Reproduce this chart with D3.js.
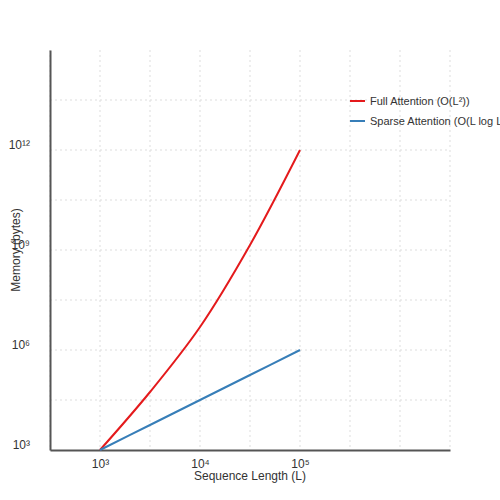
<!DOCTYPE html>
<html><head><meta charset="utf-8">
<script src="https://cdn.jsdelivr.net/npm/d3@7"></script>
<style>body{margin:0;background:#fff}text{font-family:"Liberation Sans",Arial,sans-serif}</style>
</head><body><svg width="500" height="500"></svg>
<script>
// values
var seqLen = [1e3, 10 ** 3.5, 1e4, 10 ** 4.5, 1e5];
var fullMem = [1e3, 10 ** 4.74, 10 ** 6.69, 10 ** 9.15, 1e12];
var sparseMem = [1e3, 10 ** 3.75, 10 ** 4.5, 10 ** 5.25, 1e6];
var xTicks = [1e3, 1e4, 1e5], xTickLabels = ["10³", "10⁴", "10⁵"];
var yTicks = [1e3, 1e6, 1e9, 1e12], yTickLabels = ["10³", "10⁶", "10⁹", "10¹²"];
var seriesNames = ["Full Attention (O(L²))", "Sparse Attention (O(L log L))"];
var colors = ["#e41a1c", "#377eb8"];

var svg = d3.select("svg");
var x = d3.scaleLog().domain([10 ** 2.5, 10 ** 6.5]).range([50, 450]);
var y = d3.scaleLog().domain([1e3, 1e15]).range([450, 50]);

// dotted grid
var xGrid = d3.range(2.5, 6.51, 0.5).map(e => 10 ** e);
var yGrid = d3.range(4.5, 13.51, 1.5).map(e => 10 ** e);
svg.selectAll(".gx").data(xGrid).join("line")
  .attr("x1", d => x(d)).attr("x2", d => x(d)).attr("y1", 50).attr("y2", 450)
  .attr("stroke", "#ddd").attr("stroke-dasharray", "2,3");
svg.selectAll(".gy").data(yGrid).join("line")
  .attr("y1", d => y(d)).attr("y2", d => y(d)).attr("x1", 50).attr("x2", 450)
  .attr("stroke", "#ddd").attr("stroke-dasharray", "2,3");

// axes
var xAxis = svg.append("g").attr("transform", "translate(0,450)")
  .call(d3.axisBottom(x).tickValues(xTicks).tickSize(0).tickPadding(9).tickFormat((d, i) => xTickLabels[i]));
var yAxis = svg.append("g").attr("transform", "translate(50,0)")
  .call(d3.axisLeft(y).tickValues(yTicks).tickSize(0).tickPadding(20).tickFormat((d, i) => yTickLabels[i]));
[xAxis, yAxis].forEach(g => {
  g.select(".domain").attr("stroke", "#555").attr("stroke-width", 2);
  g.selectAll("text").attr("font-size", 12).attr("fill", "#333");
});
yAxis.selectAll("text").attr("dy", "-0.1em");

svg.append("text").attr("x", 250).attr("y", 480).attr("text-anchor", "middle")
  .attr("font-size", 12).attr("fill", "#333").text("Sequence Length (L)");
svg.append("text").attr("transform", "translate(20,250) rotate(-90)").attr("text-anchor", "middle")
  .attr("font-size", 12).attr("fill", "#333").text("Memory (bytes)");

// lines
var line = d3.line().x(d => x(d[0])).y(d => y(d[1])).curve(d3.curveCatmullRom);
[fullMem, sparseMem].forEach((s, i) => {
  svg.append("path").datum(seqLen.map((l, j) => [l, s[j]]))
    .attr("d", line).attr("fill", "none").attr("stroke", colors[i]).attr("stroke-width", 2);
});

// legend
var leg = svg.selectAll(".leg").data(seriesNames).join("g")
  .attr("transform", (d, i) => "translate(350," + (101 + i * 20) + ")");
leg.append("line").attr("x2", 15).attr("stroke", (d, i) => colors[i]).attr("stroke-width", 2);
leg.append("text").attr("x", 20).attr("dy", "0.35em").attr("font-size", 11).attr("fill", "#333").text(d => d);
</script></body></html>
